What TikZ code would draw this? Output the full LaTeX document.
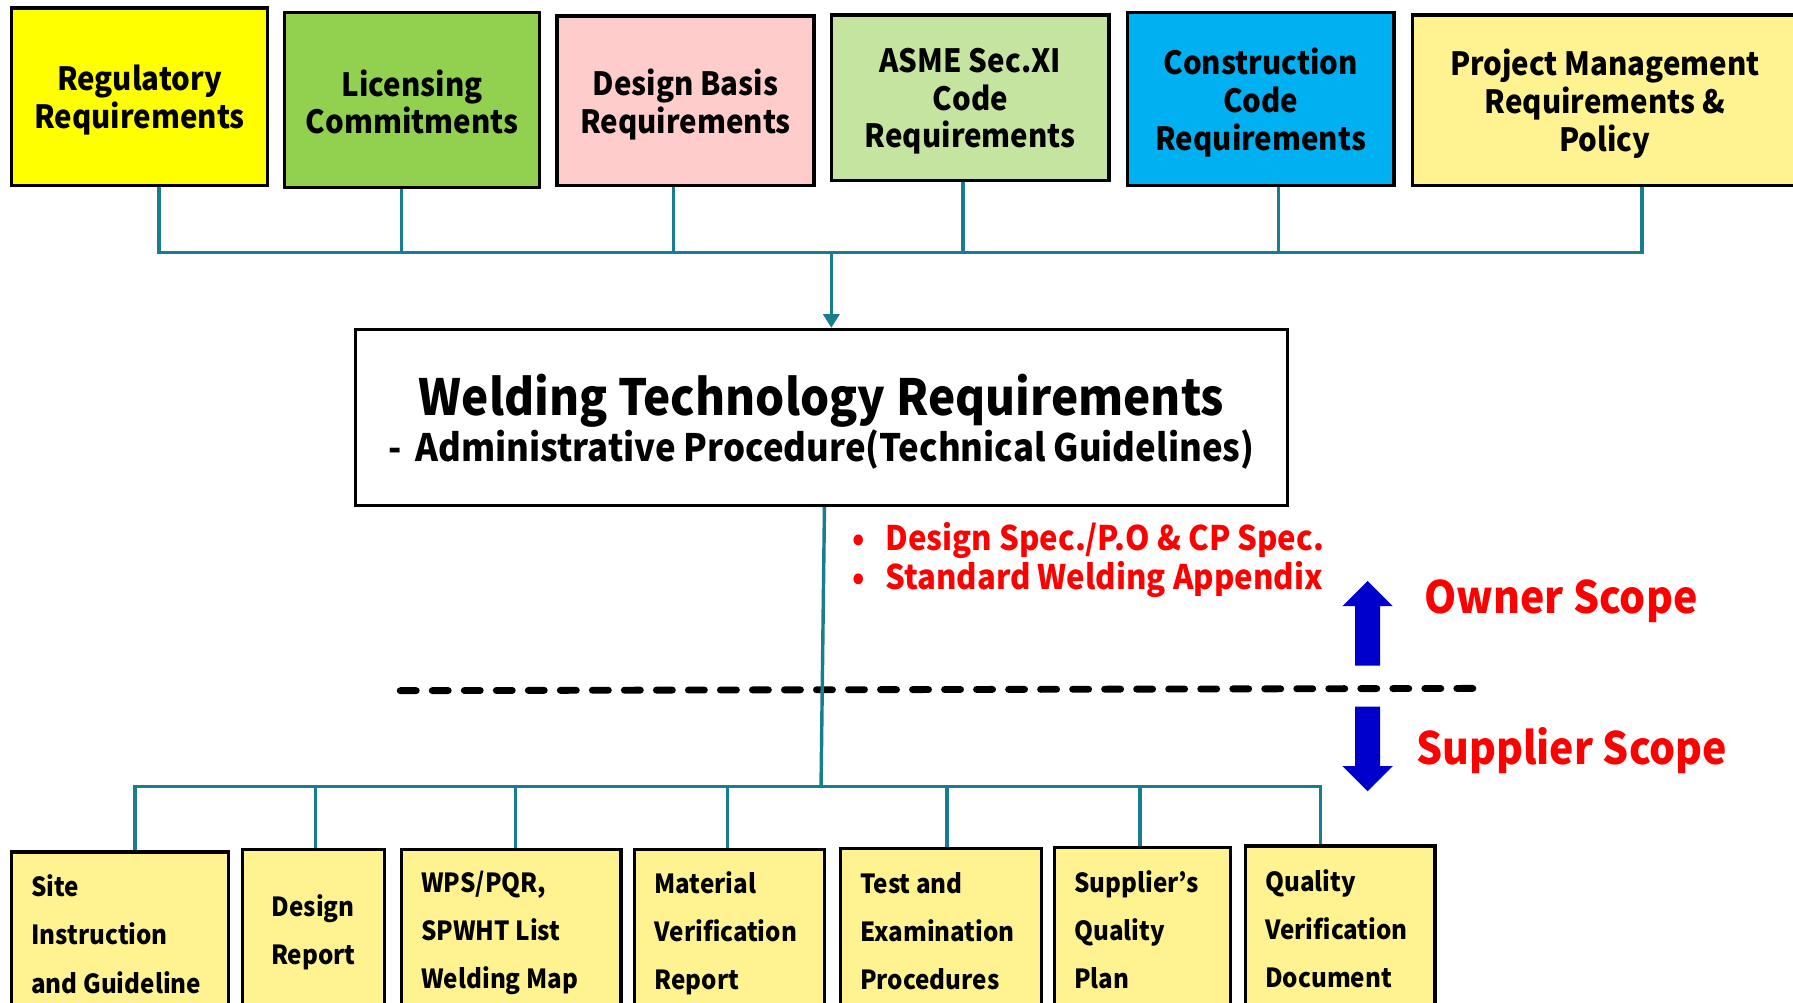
\documentclass[tikz,border=0pt]{standalone}
\usepackage{fontspec}
\setmainfont{Noto Sans CJK KR}[FakeStretch=0.92]
\usetikzlibrary{arrows.meta}
\definecolor{tealline}{RGB}{23,125,143}
\definecolor{cyel}{RGB}{255,255,0}
\definecolor{cgreen}{RGB}{146,208,80}
\definecolor{cpink}{RGB}{255,204,204}
\definecolor{clgreen}{RGB}{197,228,160}
\definecolor{cblue}{RGB}{0,176,240}
\definecolor{cpale}{RGB}{255,242,145}
\definecolor{cred}{RGB}{255,0,0}
\definecolor{cdblue}{RGB}{0,0,204}
\begin{document}
\begin{tikzpicture}[x=0.5pt,y=-0.5pt,
 rect/.style n args={4}{minimum width={(#3-#1)*0.5pt}, minimum height={(#4-#2)*0.5pt}, at={({(#1+#3)/2},{(#2+#4)/2})}},
 topbox/.style={draw=black, line width=1.5pt, inner sep=0pt},
 toptext/.style={inner sep=0pt, align=center, yshift=-1.6pt, font=\bfseries\fontsize{14}{16.5}\selectfont},
 botbox/.style={draw=black, line width=1.5pt, inner sep=0pt, fill=cpale},
 bottext/.style={inner sep=0pt, align=left, anchor=west, font=\bfseries\fontsize{11.5}{21}\selectfont},
 conn/.style={draw=tealline, line width=1.5pt},
 redtext/.style={text=cred, inner sep=0pt, anchor=west, font=\bfseries\fontsize{14.8}{16}\selectfont},
 scopelabel/.style={text=cred, inner sep=0pt, anchor=west, font=\bfseries\fontsize{19.5}{22}\selectfont},
 bluearrow/.style={fill=cdblue}
]
\useasboundingbox (0,0) rectangle (1568,877);
\clip (0,0) rectangle (1568,877);

% top boxes
\node[topbox, fill=cyel,   rect={10}{7}{234}{162}]    (t1) {};
\node[topbox, fill=cgreen, rect={249}{11}{472}{164}]  (t2) {};
\node[topbox, fill=cpink,  rect={487}{14}{712}{162}]  (t3) {};
\node[topbox, fill=clgreen,rect={727}{13}{970}{158}]  (t4) {};
\node[topbox, fill=cblue,  rect={986}{11}{1219}{162}] (t5) {};
\node[topbox, fill=cpale,  rect={1235}{13}{1572}{162}] (t6) {};
\node[toptext] (l1) at (t1.center) {Regulatory\\Requirements};
\node[toptext, yshift=0.8pt] (l2) at (t2.center) {Licensing\\Commitments};
\node[toptext] (l3) at (t3.center) {Design Basis\\Requirements};
\node[toptext] (l4) at (t4.center) {ASME Sec.XI\\Code\\Requirements};
\node[toptext] (l5) at (t5.center) {Construction\\Code\\Requirements};
\node[toptext] (l6) at (t6.center) {Project Management\\Requirements \&\\Policy};

% top bus
\coordinate (d1) at (139,221);
\coordinate (d2) at (351,221);
\coordinate (d3) at (589,221);
\coordinate (d4) at (842,221);
\coordinate (d5) at (1118,221);
\coordinate (d6) at (1436,221);
\coordinate (da) at (727,221);

% main box
\node[draw=black, line width=1.3pt, fill=white, inner sep=0pt, rect={311}{288}{1126}{442}] (main) {};
\node[inner sep=0pt, align=center, font=\bfseries, yshift=-2pt] (mainl) at (main.center)
 {\fontsize{21.8}{23}\selectfont Welding Technology Requirements\\
  \fontsize{16.5}{23}\selectfont -\hspace{0.35em}Administrative Procedure(Technical Guidelines)};

\draw[conn] (t1.south -| d1) -- (d1) -- (d6) -- (t6.south -| d6);
\draw[conn] (t2.south -| d2) -- (d2);
\draw[conn] (t3.south -| d3) -- (d3);
\draw[conn] (t4.south -| d4) -- (d4);
\draw[conn] (t5.south -| d5) -- (d5);
\draw[conn, -{Triangle[length=6pt,width=7pt]}] (da) -- (da |- main.north);

% red notes
\node[redtext] (n1) at (745,473) {\textbullet\hspace{9pt}Design Spec./P.O \& CP Spec.};
\node[redtext] (n2) at (745,507) {\textbullet\hspace{9pt}Standard Welding Appendix};

% scope
\fill[bluearrow] (1185,582) -- (1185,530) -- (1174,530) -- (1196,508) -- (1218,530) -- (1207,530) -- (1207,582) -- cycle;
\fill[bluearrow] (1185,618) -- (1185,670) -- (1174,670) -- (1196,692) -- (1218,670) -- (1207,670) -- (1207,618) -- cycle;
\node[scopelabel] (own) at (1245,526) {Owner Scope};
\node[scopelabel] (sup) at (1238,656) {Supplier Scope};

% dashed boundary
\coordinate (dl) at (350,604);
\coordinate (dr) at (1295,602);
\draw[line width=3pt, dash pattern=on 7pt off 7pt, line cap=round] (dl) -- (dr);

% bottom boxes
\node[botbox, rect={10}{745}{200}{920}]    (b1) {};
\node[botbox, rect={212}{743}{336}{920}]   (b2) {};
\node[botbox, rect={351}{743}{543}{920}]   (b3) {};
\node[botbox, rect={555}{743}{721}{920}]   (b4) {};
\node[botbox, rect={735}{742}{911}{920}]   (b5) {};
\node[botbox, rect={922}{741}{1076}{920}]  (b6) {};
\node[botbox, rect={1089}{740}{1255}{920}] (b7) {};

\node[bottext] (x1) at (27,817) {Site\\Instruction\\and Guideline};
\node[bottext, anchor=center, align=center] (x2) at (274,815) {Design\\Report};
\node[bottext] (x3) at (368,816) {WPS/PQR,\\SPWHT List\\Welding Map};
\node[bottext] (x4) at (572,816) {Material\\Verification\\Report};
\node[bottext] (x5) at (752,814) {Test and\\Examination\\Procedures};
\node[bottext] (x6) at (939,813) {Supplier’s\\Quality\\Plan};
\node[bottext] (x7) at (1106,812) {Quality\\Verification\\Document};

% bottom bus
\coordinate (mt) at (721,442);
\coordinate (ms) at (718,688);
\coordinate (e1) at (118,688);
\coordinate (e2) at (276,688);
\coordinate (e3) at (451,688);
\coordinate (e4) at (636,688);
\coordinate (e5) at (828,688);
\coordinate (e6) at (997,688);
\coordinate (e7) at (1155,688);
\draw[conn] (main.south -| mt) -- (ms);
\draw[conn] (b1.north -| e1) -- (e1) -- (e7) -- (b7.north -| e7);
\draw[conn] (e2) -- (b2.north -| e2);
\draw[conn] (e3) -- (b3.north -| e3);
\draw[conn] (e4) -- (b4.north -| e4);
\draw[conn] (e5) -- (b5.north -| e5);
\draw[conn] (e6) -- (b6.north -| e6);
\end{tikzpicture}
\end{document}
